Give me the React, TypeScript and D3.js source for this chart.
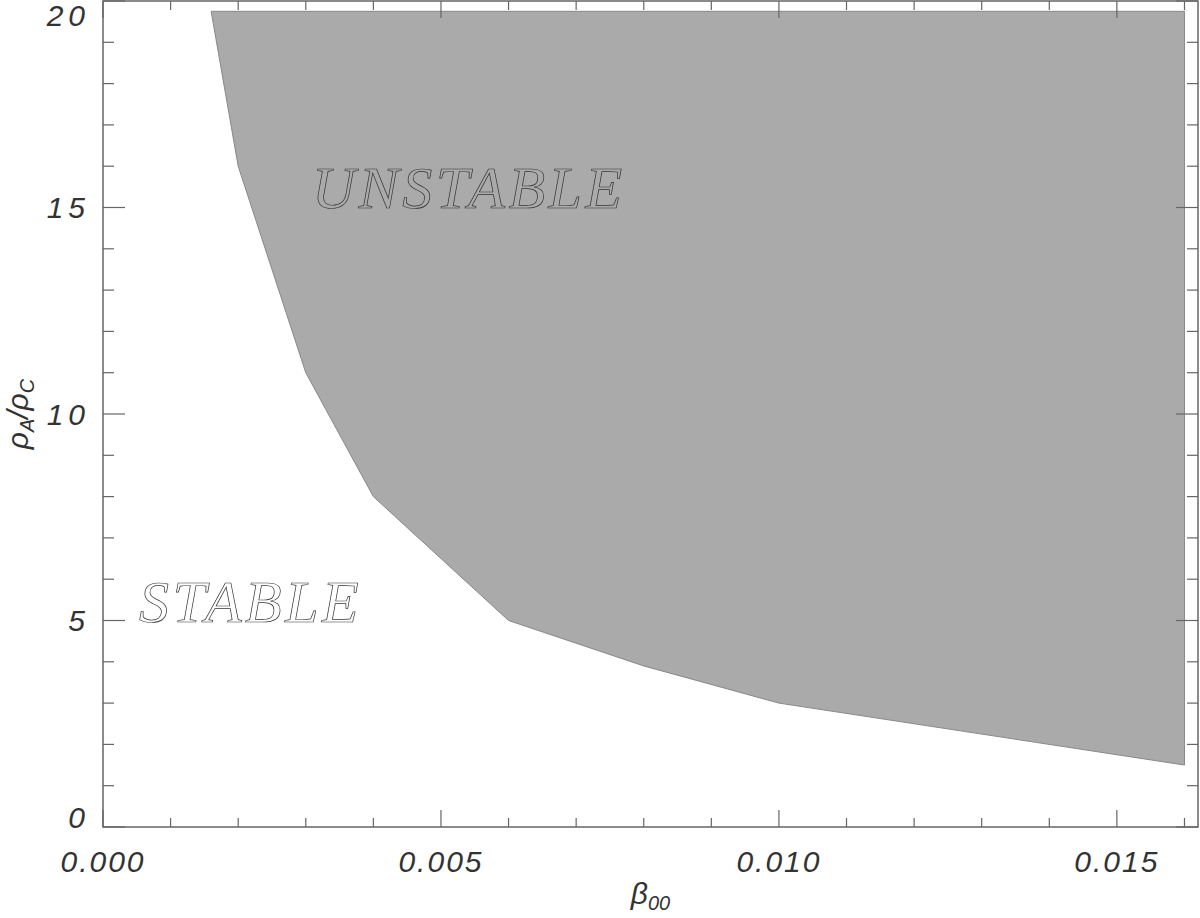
import React from "react";
import * as d3 from "d3";

const betaValues = [0.0016, 0.002, 0.003, 0.004, 0.006, 0.008, 0.010, 0.016];
const rhoValues = [19.75, 16.0, 11.0, 8.0, 5.0, 3.9, 3.0, 1.5];
const topRho = 19.75;
const xTickLabels = ["0.000", "0.005", "0.010", "0.015"];
const yTickLabels = ["0", "5", "10", "15", "20"];

const W = 1200, H = 918;
const L = 103, R = 1198, T = 1, B = 827;

export default function App() {
  const x = d3.scaleLinear().domain([0, 0.0162]).range([L, R]);
  const y = d3.scaleLinear().domain([0, 20]).range([B, T]);

  const pts: [number, number][] = betaValues.map((b, i) => [b, rhoValues[i]]);
  const poly: [number, number][] = [
    [betaValues[0], topRho],
    ...pts,
    [betaValues[betaValues.length - 1], topRho],
  ];
  const line = d3.line<[number, number]>().x(d => x(d[0])).y(d => y(d[1]));
  const path = line(poly) + "Z";

  const xMinor = d3.range(0, 17).map(i => i * 0.001);
  const yMinor = d3.range(0, 21);
  const axisColor = "#666";
  const tickFont = { fontFamily: "Liberation Sans", fontStyle: "italic", fontSize: 30, fill: "#333", letterSpacing: 2 } as const;

  return (
    <svg width={W} height={H} style={{ position: "absolute", left: 0, top: 0 }}>
      <rect x={0} y={0} width={W} height={H} fill="#fff" />
      <path d={path} fill="#aaaaaa" stroke="#888" strokeWidth={1} />
      <rect x={L} y={T} width={R - L} height={B - T} fill="none" stroke={axisColor} strokeWidth={1.5} />
      {xMinor.map((v, i) => {
        const major = i % 5 === 0;
        const len = major ? 17 : 9;
        const xx = x(v);
        return (
          <g key={"xt" + i}>
            <line x1={xx} x2={xx} y1={B} y2={B - len} stroke={axisColor} strokeWidth={1.2} />
            <line x1={xx} x2={xx} y1={T} y2={T + len} stroke={axisColor} strokeWidth={1.2} />
          </g>
        );
      })}
      {yMinor.map((v, i) => {
        const major = i % 5 === 0;
        const len = major ? 22 : 11;
        const yy = y(v);
        return (
          <g key={"yt" + i}>
            <line x1={L} x2={L + len} y1={yy} y2={yy} stroke={axisColor} strokeWidth={1.2} />
            <line x1={R} x2={R - len} y1={yy} y2={yy} stroke={axisColor} strokeWidth={1.2} />
          </g>
        );
      })}
      {xTickLabels.map((t, i) => (
        <text key={"xl" + i} x={x(+t)} y={872} textAnchor="middle" {...tickFont}>{t}</text>
      ))}
      {yTickLabels.map((t, i) => {
        const yy = Math.min(Math.max(y(+t), 15), 817);
        return (
          <text key={"yl" + i} x={90} y={yy} dy="0.36em" textAnchor="end" {...tickFont} letterSpacing={5}>{t}</text>
        );
      })}
      <text x={(L + R) / 2} y={904} textAnchor="middle" fontFamily="Liberation Sans" fontStyle="italic" fontSize={30} fill="#333">
        β<tspan fontSize={20} dy={6}>00</tspan>
      </text>
      <text transform={`translate(28, ${(T + B) / 2}) rotate(-90)`} textAnchor="middle" fontFamily="Liberation Sans" fontStyle="italic" fontSize={30} fill="#333">
        ρ<tspan fontSize={20} dy={6}>A</tspan><tspan dy={-6}>/ρ</tspan><tspan fontSize={20} dy={6}>C</tspan>
      </text>
      <text x={312} y={208} fontFamily="Liberation Serif" fontStyle="italic" fontSize={60} fill="none" stroke="#333" strokeWidth={0.7} letterSpacing={3.5}>UNSTABLE</text>
      <text x={139} y={622} fontFamily="Liberation Serif" fontStyle="italic" fontSize={60} fill="none" stroke="#333" strokeWidth={0.7} letterSpacing={3.5}>STABLE</text>
    </svg>
  );
}
